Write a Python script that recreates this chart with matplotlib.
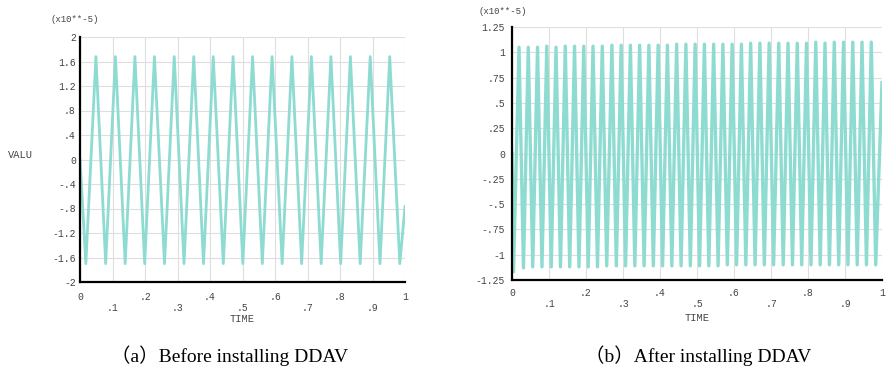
import matplotlib
matplotlib.use('Agg')
import matplotlib.pyplot as plt
import numpy as np

# ---- data (values in units of 1e-5) ----
# (a) before installing DDAV: extrema of the response
a_peak_t = [0.049, 0.109, 0.169, 0.229, 0.290, 0.350, 0.410, 0.471, 0.531,
            0.591, 0.652, 0.712, 0.772, 0.832, 0.893, 0.953]
a_peak_v = [1.68] * 16
a_trough_t = [0.018, 0.079, 0.139, 0.199, 0.260, 0.320, 0.380, 0.441, 0.501,
              0.561, 0.622, 0.682, 0.742, 0.802, 0.862, 0.923, 0.984]
a_trough_v = [-1.70] * 17
a_start = (0.0, 0.0)
a_end = (1.0, -0.77)

# (b) after installing DDAV
b_peak_t = [0.019, 0.044, 0.069, 0.094, 0.119, 0.144, 0.169, 0.194, 0.219, 0.244,
            0.270, 0.295, 0.320, 0.345, 0.370, 0.395, 0.420, 0.445, 0.470, 0.495,
            0.520, 0.545, 0.570, 0.595, 0.620, 0.645, 0.670, 0.695, 0.721, 0.746,
            0.771, 0.796, 0.821, 0.846, 0.871, 0.896, 0.921, 0.946, 0.971]
b_peak_v = [1.05, 1.05, 1.05, 1.06, 1.05, 1.06, 1.06, 1.06, 1.06, 1.06,
            1.07, 1.07, 1.07, 1.07, 1.07, 1.07, 1.07, 1.08, 1.08, 1.08,
            1.08, 1.08, 1.08, 1.08, 1.08, 1.09, 1.09, 1.09, 1.09, 1.09,
            1.09, 1.09, 1.10, 1.09, 1.10, 1.10, 1.10, 1.10, 1.10]
b_trough_t = [0.004, 0.031, 0.056, 0.081, 0.106, 0.131, 0.156, 0.181, 0.206, 0.231,
              0.256, 0.282, 0.307, 0.332, 0.357, 0.382, 0.407, 0.432, 0.457, 0.482,
              0.507, 0.532, 0.557, 0.582, 0.607, 0.632, 0.657, 0.682, 0.707, 0.733,
              0.758, 0.783, 0.808, 0.833, 0.858, 0.883, 0.908, 0.933, 0.958, 0.983]
b_trough_v = [-1.17, -1.13, -1.12, -1.12, -1.12, -1.12, -1.12, -1.12, -1.12, -1.12,
              -1.11, -1.11, -1.11, -1.11, -1.11, -1.11, -1.11, -1.11, -1.11, -1.11,
              -1.11, -1.11, -1.11, -1.10, -1.10, -1.10, -1.10, -1.10, -1.10, -1.10,
              -1.10, -1.10, -1.10, -1.10, -1.10, -1.10, -1.10, -1.10, -1.10, -1.10]
b_start = (0.0, 0.0)
b_end = (1.0, 0.70)

x_ticks = [0, 0.1, 0.2, 0.3, 0.4, 0.5, 0.6, 0.7, 0.8, 0.9, 1.0]
x_labels = ['0', '.1', '.2', '.3', '.4', '.5', '.6', '.7', '.8', '.9', '1']
a_yticks = [-2, -1.6, -1.2, -0.8, -0.4, 0, 0.4, 0.8, 1.2, 1.6, 2]
a_ylabels = ['-2', '-1.6', '-1.2', '-.8', '-.4', '0', '.4', '.8', '1.2', '1.6', '2']
b_yticks = [-1.25, -1, -0.75, -0.5, -0.25, 0, 0.25, 0.5, 0.75, 1, 1.25]
b_ylabels = ['-1.25', '-1', '-.75', '-.5', '-.25', '0', '.25', '.5', '.75', '1', '1.25']

captions = ['（a）Before installing DDAV', '（b）After installing DDAV']

LINE = '#8edbd1'
MONO = 'Liberation Mono'
TXT = '#444444'

W, H = 889, 382


def fx(x):
    return x / W


def fy(y):
    return 1 - y / H


def build(start, pt, pv, tt, tv, end):
    t = np.concatenate([[start[0]], pt, tt, [end[0]]])
    v = np.concatenate([[start[1]], pv, tv, [end[1]]])
    order = np.argsort(t)
    return t[order], v[order]


def style(ax, yticks, ylabels, ypad, xpad):
    ax.set_xlim(0, 1)
    ax.set_xticks(x_ticks)
    # staggered labels: odd ticks on a second row
    ax.set_xticklabels([s if i % 2 == 0 else '\n' + s for i, s in enumerate(x_labels)],
                       family=MONO, fontsize=7, color=TXT, linespacing=1.1)
    ax.set_yticks(yticks)
    ax.set_yticklabels(ylabels, family=MONO, fontsize=7, color=TXT)
    ax.tick_params(axis='both', length=0)
    ax.tick_params(axis='y', pad=ypad)
    ax.tick_params(axis='x', pad=xpad)
    for lab in ax.get_xticklabels():
        lab.set_verticalalignment('top')
    ax.grid(True, color='#dedede', linewidth=0.8)
    ax.set_axisbelow(True)
    for s in ['top', 'right']:
        ax.spines[s].set_visible(False)
    for s in ['left', 'bottom']:
        ax.spines[s].set_color('black')
        ax.spines[s].set_linewidth(1.6)


fig = plt.figure(figsize=(W / 100, H / 100), dpi=100)
fig.patch.set_facecolor('white')

ax1 = fig.add_axes([fx(80), fy(282), fx(405) - fx(80), fy(37) - fy(282)])
ax2 = fig.add_axes([fx(512), fy(280), fx(882) - fx(512), fy(27) - fy(280)])

t, v = build(a_start, a_peak_t, a_peak_v, a_trough_t, a_trough_v, a_end)
ax1.plot(t, v, color=LINE, linewidth=2.0, solid_joinstyle='round')
ax1.set_ylim(-2, 2)
style(ax1, a_yticks, a_ylabels, 3, 7)

t, v = build(b_start, b_peak_t, b_peak_v, b_trough_t, b_trough_v, b_end)
ax2.plot(t, v, color=LINE, linewidth=2.4, solid_joinstyle='round')
ax2.set_ylim(-1.25, 1.25)
style(ax2, b_yticks, b_ylabels, 5, 6)

# axis titles in the ANSYS-like style
fig.text(fx(50), fy(20), '(x10**-5)', family=MONO, fontsize=6.5, color=TXT, va='center')
fig.text(fx(478), fy(12), '(x10**-5)', family=MONO, fontsize=6.5, color=TXT, va='center')
fig.text(fx(8), fy(155), 'VALU', family=MONO, fontsize=7.5, color=TXT, va='center')
fig.text(fx(242), fy(319), 'TIME', family=MONO, fontsize=7.5, color=TXT, ha='center', va='center')
fig.text(fx(697), fy(318), 'TIME', family=MONO, fontsize=7.5, color=TXT, ha='center', va='center')

cap_font = ['Liberation Serif', 'Noto Sans CJK SC']
fig.text(fx(230), fy(356), captions[0], family=cap_font, fontsize=14, ha='center', va='center')
fig.text(fx(698), fy(356), captions[1], family=cap_font, fontsize=14, ha='center', va='center')

fig.savefig('out.png', dpi=100, facecolor='white')
